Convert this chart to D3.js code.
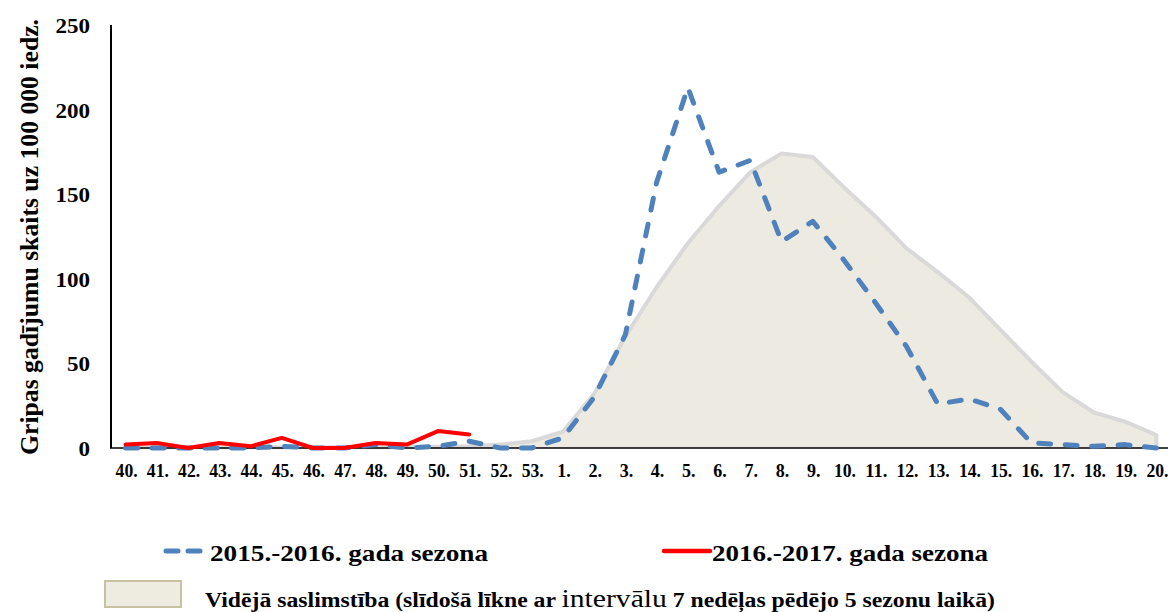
<!DOCTYPE html>
<html>
<head>
<meta charset="utf-8">
<script src="https://cdn.jsdelivr.net/npm/d3@7"></script>
<style>
  body { margin: 0; background: #fff; }
  svg text { font-family: "Liberation Serif", "Times New Roman", Times, serif; font-weight: bold; fill: #000; }
</style>
</head>
<body>
<svg id="chart" width="1168" height="612"></svg>
<script>
// weeks of the season (40. .. 53., 1. .. 20.)
const weeks = ["40","41","42","43","44","45","46","47","48","49","50","51","52","53",
  "1","2","3","4","5","6","7","8","9","10","11","12","13","14","15","16","17","18","19","20"];

// 2015.-2016. season
const season1516 = [0,0,0,0,0,1,0,0,2,0,1,4,0,0,
  6,30,67,157,213,163,170,122,134,111,86,60,26,29,23,3,2,1,2,0];

// 2016.-2017. season (only up to week 51)
const season1617 = [2,3,0,3,1,6,0,0,3,2,10,8];

// average incidence (moving curve, last 5 seasons)
const average = [0.5,0.5,0.5,0.5,0.5,0.5,0.5,0.5,0.5,0.5,0.8,1,2,4,
  9.6,32,66,95,121,143,163,174,172,154,137,118,104,89,70,51,33,21,15.6,7.7];

const yTicks = [0, 50, 100, 150, 200, 250];

const svg = d3.select("#chart");

const x = d3.scalePoint()
  .domain(weeks)
  .range([110, 1172])
  .padding(0.5);

const y = d3.scaleLinear()
  .domain([0, 250])
  .range([448, 25]);

// average area
const avgData = weeks.map((w, i) => ({ w, v: average[i] }));
const area = d3.area()
  .x(d => x(d.w))
  .y0(y(0))
  .y1(d => y(d.v));

svg.append("path")
  .datum(avgData)
  .attr("d", area)
  .attr("fill", "#EDEBE1");

// outline: top line plus right edge down to the axis
const outline = avgData.map(d => [x(d.w), y(d.v)]);
outline.push([x(weeks[weeks.length - 1]), y(0)]);
svg.append("path")
  .attr("d", d3.line()(outline))
  .attr("fill", "none")
  .attr("stroke", "#D9D9D9")
  .attr("stroke-width", 4)
  .attr("stroke-linejoin", "round");

// axes
svg.append("line")
  .attr("x1", 110).attr("x2", 1168)
  .attr("y1", y(0)).attr("y2", y(0))
  .attr("stroke", "#000").attr("stroke-width", 1.5);

svg.append("line")
  .attr("x1", 111).attr("x2", 111)
  .attr("y1", y(250)).attr("y2", y(0))
  .attr("stroke", "#000").attr("stroke-width", 2);

// approximate glyph widths to keep labels as narrow as the original
const labelWidth = (s, digit, dot) => s.split("").reduce((a, c) => a + (c === "." ? dot : digit), 0);

svg.append("g")
  .selectAll("text")
  .data(yTicks)
  .join("text")
    .attr("x", 90)
    .attr("y", d => y(d) + 8)
    .attr("text-anchor", "end")
    .attr("textLength", d => labelWidth(String(d), 11.5, 0))
    .attr("lengthAdjust", "spacingAndGlyphs")
    .style("font-size", "21px")
    .text(d => d);

svg.append("g")
  .selectAll("text")
  .data(weeks)
  .join("text")
    .attr("x", d => x(d) + 1)
    .attr("y", 477)
    .attr("text-anchor", "middle")
    .attr("textLength", d => labelWidth(d + ".", 8.5, 5))
    .attr("lengthAdjust", "spacingAndGlyphs")
    .style("font-size", "18px")
    .text(d => d + ".");

svg.append("text")
  .attr("transform", "translate(38,237) rotate(-90)")
  .attr("text-anchor", "middle")
  .attr("textLength", 436)
  .attr("lengthAdjust", "spacingAndGlyphs")
  .style("font-size", "25px")
  .text("Gripas gadījumu skaits uz 100 000 iedz.");

// series lines
const line = d3.line()
  .x(d => x(d.w))
  .y(d => y(d.v));

svg.append("path")
  .datum(weeks.map((w, i) => ({ w, v: season1516[i] })))
  .attr("d", line)
  .attr("fill", "none")
  .attr("stroke", "#4F81BD")
  .attr("stroke-width", 5)
  .attr("stroke-dasharray", "12,14.5")
  .attr("stroke-linecap", "round")
  .attr("stroke-linejoin", "round");

svg.append("path")
  .datum(season1617.map((v, i) => ({ w: weeks[i], v })))
  .attr("d", line)
  .attr("fill", "none")
  .attr("stroke", "#FF0000")
  .attr("stroke-width", 4)
  .attr("stroke-linecap", "round")
  .attr("stroke-linejoin", "round");

// legend
const lg = svg.append("g");

lg.append("line")
  .attr("x1", 166).attr("x2", 208)
  .attr("y1", 551).attr("y2", 551)
  .attr("stroke", "#4F81BD").attr("stroke-width", 5)
  .attr("stroke-dasharray", "12,10").attr("stroke-linecap", "round");
lg.append("text")
  .attr("x", 210).attr("y", 561)
  .attr("textLength", 278)
  .attr("lengthAdjust", "spacingAndGlyphs")
  .style("font-size", "23px")
  .text("2015.-2016. gada sezona");

lg.append("line")
  .attr("x1", 664).attr("x2", 710)
  .attr("y1", 551).attr("y2", 551)
  .attr("stroke", "#FF0000").attr("stroke-width", 4.5)
  .attr("stroke-linecap", "round");
lg.append("text")
  .attr("x", 712).attr("y", 561)
  .attr("textLength", 276)
  .attr("lengthAdjust", "spacingAndGlyphs")
  .style("font-size", "23px")
  .text("2016.-2017. gada sezona");

lg.append("rect")
  .attr("x", 105).attr("y", 581)
  .attr("width", 76).attr("height", 26)
  .attr("fill", "#EEECE1")
  .attr("stroke", "#C9C2A2").attr("stroke-width", 2);

const t3 = lg.append("text")
  .attr("x", 205).attr("y", 607)
  .attr("textLength", 790)
  .attr("lengthAdjust", "spacingAndGlyphs")
  .style("font-size", "20px");
t3.append("tspan").text("Vidējā saslimstība (slīdošā līkne ar ");
t3.append("tspan").style("font-size", "25px").style("font-weight", "normal").text("intervālu");
t3.append("tspan").text(" 7 nedēļas pēdējo 5 sezonu laikā)");
</script>
</body>
</html>
